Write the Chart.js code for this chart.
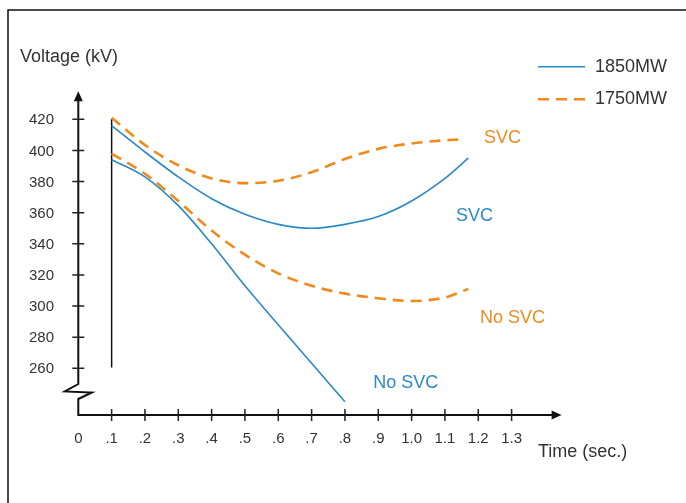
<!DOCTYPE html>
<html>
<head>
<meta charset="utf-8">
<script src="https://cdn.jsdelivr.net/npm/chart.js@4"></script>
<style>
  html, body { margin: 0; padding: 0; background: #fff; }
  #chart-wrapper { display: block; }
</style>
</head>
<body>
<canvas id="chart-wrapper" width="686" height="503"></canvas>
<script>
// Data
const xTicks = [0.1, 0.2, 0.3, 0.4, 0.5, 0.6, 0.7, 0.8, 0.9, 1.0, 1.1, 1.2, 1.3];
const xTickLabels = ["0", ".1", ".2", ".3", ".4", ".5", ".6", ".7", ".8", ".9", "1.0", "1.1", "1.2", "1.3"];
const xLabelValues = [0, 0.1, 0.2, 0.3, 0.4, 0.5, 0.6, 0.7, 0.8, 0.9, 1.0, 1.1, 1.2, 1.3];
const yTicks = [260, 280, 300, 320, 340, 360, 380, 400, 420];

const time1850Svc = [0.1, 0.2, 0.3, 0.4, 0.5, 0.6, 0.7, 0.8, 0.9, 1.0, 1.1, 1.17];
const volt1850Svc = [416, 399, 383, 369, 359, 352.5, 350, 352.5, 357.5, 367.5, 382, 395];

const time1850NoSvc = [0.1, 0.2, 0.3, 0.4, 0.5, 0.6, 0.7, 0.8];
const volt1850NoSvc = [394, 383, 364.5, 340, 313, 288, 263.3, 238.5];

const time1750Svc = [0.1, 0.2, 0.3, 0.4, 0.5, 0.6, 0.7, 0.8, 0.9, 1.0, 1.1, 1.14];
const volt1750Svc = [421, 403.5, 390.5, 382, 379, 380.5, 386, 394.5, 401, 404.5, 406.5, 407];

const time1750NoSvc = [0.1, 0.2, 0.3, 0.4, 0.5, 0.6, 0.7, 0.8, 0.9, 1.0, 1.1, 1.17];
const volt1750NoSvc = [398, 385, 367.5, 348.5, 333, 321, 313, 308, 305, 303.3, 305.5, 311];

const stepTime = [0.1, 0.1];
const stepVolt = [420, 260.5];

const blue = "#2a8ac8";
const orange = "#f08a1c";
const textColor = "#333";
const fontFamily = "'Liberation Sans', Arial, sans-serif";

// text labels next to the curves (data coordinates, left / middle)
const curveLabels = [
  { text: "SVC", x: 1.217, y: 408, color: orange },
  { text: "SVC", x: 1.133, y: 357.9, color: blue },
  { text: "No SVC", x: 1.205, y: 292.3, color: orange },
  { text: "No SVC", x: 0.885, y: 250.4, color: blue },
];

function toPoints(xs, ys) {
  let pts = [];
  for (let i = 0; i < xs.length; i++) {
    pts.push({ x: xs[i], y: ys[i] });
  }
  return pts;
}

const axesPlugin = {
  id: "drawnAxes",
  beforeDatasetsDraw: (chart) => {
    const { ctx } = chart;
    const xs = chart.scales.x;
    const ys = chart.scales.y;
    const x0 = xs.getPixelForValue(0);
    const xEnd = xs.getPixelForValue(xs.max);
    const yBase = ys.getPixelForValue(ys.min);
    const yTop = ys.getPixelForValue(ys.max);

    ctx.save();
    // frame
    ctx.strokeStyle = "#111";
    ctx.lineWidth = 1.5;
    ctx.strokeRect(8, 10, 720, 600);

    // y axis with break, then x axis
    ctx.lineWidth = 2;
    ctx.beginPath();
    ctx.moveTo(x0, yTop + 8);
    ctx.lineTo(x0, 384);
    ctx.lineTo(x0 - 13.5, 391.5);
    ctx.lineTo(x0 + 13.5, 392.5);
    ctx.lineTo(x0, 399);
    ctx.lineTo(x0, yBase);
    ctx.lineTo(xEnd - 8, yBase);
    ctx.stroke();

    // arrow heads
    ctx.fillStyle = "#111";
    ctx.beginPath();
    ctx.moveTo(x0, yTop);
    ctx.lineTo(x0 - 4.5, yTop + 10);
    ctx.lineTo(x0 + 4.5, yTop + 10);
    ctx.closePath();
    ctx.fill();
    ctx.beginPath();
    ctx.moveTo(xEnd, yBase);
    ctx.lineTo(xEnd - 10, yBase - 4.5);
    ctx.lineTo(xEnd - 10, yBase + 4.5);
    ctx.closePath();
    ctx.fill();

    // ticks
    ctx.lineWidth = 1.5;
    ctx.strokeStyle = "#222";
    ctx.beginPath();
    for (let v of yTicks) {
      let py = ys.getPixelForValue(v);
      ctx.moveTo(x0 - 6, py);
      ctx.lineTo(x0 + 6, py);
    }
    for (let v of xTicks) {
      let px = xs.getPixelForValue(v);
      ctx.moveTo(px, yBase - 6);
      ctx.lineTo(px, yBase + 6);
    }
    ctx.stroke();

    // tick labels
    ctx.fillStyle = textColor;
    ctx.font = "15px " + fontFamily;
    ctx.textBaseline = "middle";
    ctx.textAlign = "right";
    for (let v of yTicks) {
      ctx.fillText(String(v), 54, ys.getPixelForValue(v) + 1);
    }
    ctx.textAlign = "center";
    for (let i = 0; i < xLabelValues.length; i++) {
      ctx.fillText(xTickLabels[i], xs.getPixelForValue(xLabelValues[i]), 438.5);
    }

    // axis titles
    ctx.font = "18px " + fontFamily;
    ctx.textAlign = "left";
    ctx.fillText("Voltage (kV)", 20, 57);
    ctx.fillText("Time (sec.)", 538, 452);
    ctx.restore();
  },
  afterDatasetsDraw: (chart) => {
    const { ctx } = chart;
    const xs = chart.scales.x;
    const ys = chart.scales.y;
    ctx.save();
    ctx.font = "18px " + fontFamily;
    ctx.textBaseline = "middle";
    ctx.textAlign = "left";
    for (let lab of curveLabels) {
      ctx.fillStyle = lab.color;
      ctx.fillText(lab.text, xs.getPixelForValue(lab.x), ys.getPixelForValue(lab.y));
    }

    // legend
    const legendItems = [chart.data.datasets[0], chart.data.datasets[2]];
    const legendY = [66.7, 99.3];
    for (let i = 0; i < legendItems.length; i++) {
      let ds = legendItems[i];
      ctx.strokeStyle = ds.borderColor;
      ctx.lineWidth = ds.borderWidth;
      ctx.setLineDash(ds.borderDash || []);
      ctx.beginPath();
      ctx.moveTo(538, legendY[i]);
      ctx.lineTo(585, legendY[i]);
      ctx.stroke();
      ctx.setLineDash([]);
      ctx.fillStyle = textColor;
      ctx.fillText(ds.label, 595, legendY[i]);
    }
    ctx.restore();
  },
};

const ctx = document.getElementById("chart-wrapper");
let myChart = new Chart(ctx, {
  type: "line",
  data: {
    datasets: [
      {
        label: "1850MW",
        data: toPoints(time1850Svc, volt1850Svc),
        borderColor: blue,
        borderWidth: 1.6,
        pointRadius: 0,
        cubicInterpolationMode: "monotone",
      },
      {
        label: "1850MW No SVC",
        data: toPoints(time1850NoSvc, volt1850NoSvc),
        borderColor: blue,
        borderWidth: 1.6,
        pointRadius: 0,
        cubicInterpolationMode: "monotone",
      },
      {
        label: "1750MW",
        data: toPoints(time1750Svc, volt1750Svc),
        borderColor: orange,
        borderWidth: 2.6,
        borderDash: [11, 7],
        pointRadius: 0,
        cubicInterpolationMode: "monotone",
      },
      {
        label: "1750MW No SVC",
        data: toPoints(time1750NoSvc, volt1750NoSvc),
        borderColor: orange,
        borderWidth: 2.6,
        borderDash: [11, 7],
        pointRadius: 0,
        cubicInterpolationMode: "monotone",
      },
      {
        label: "step",
        data: toPoints(stepTime, stepVolt),
        borderColor: "#111",
        borderWidth: 1.5,
        pointRadius: 0,
      },
    ],
  },
  options: {
    responsive: false,
    animation: false,
    devicePixelRatio: 1,
    layout: {
      padding: { left: 78.3, right: 124.4, top: 91.3, bottom: 88 },
    },
    scales: {
      x: { type: "linear", min: 0, max: 1.45, display: false },
      y: { type: "linear", min: 230, max: 438, display: false },
    },
    plugins: {
      legend: { display: false },
      tooltip: { enabled: false },
    },
  },
  plugins: [axesPlugin],
});
</script>
</body>
</html>
